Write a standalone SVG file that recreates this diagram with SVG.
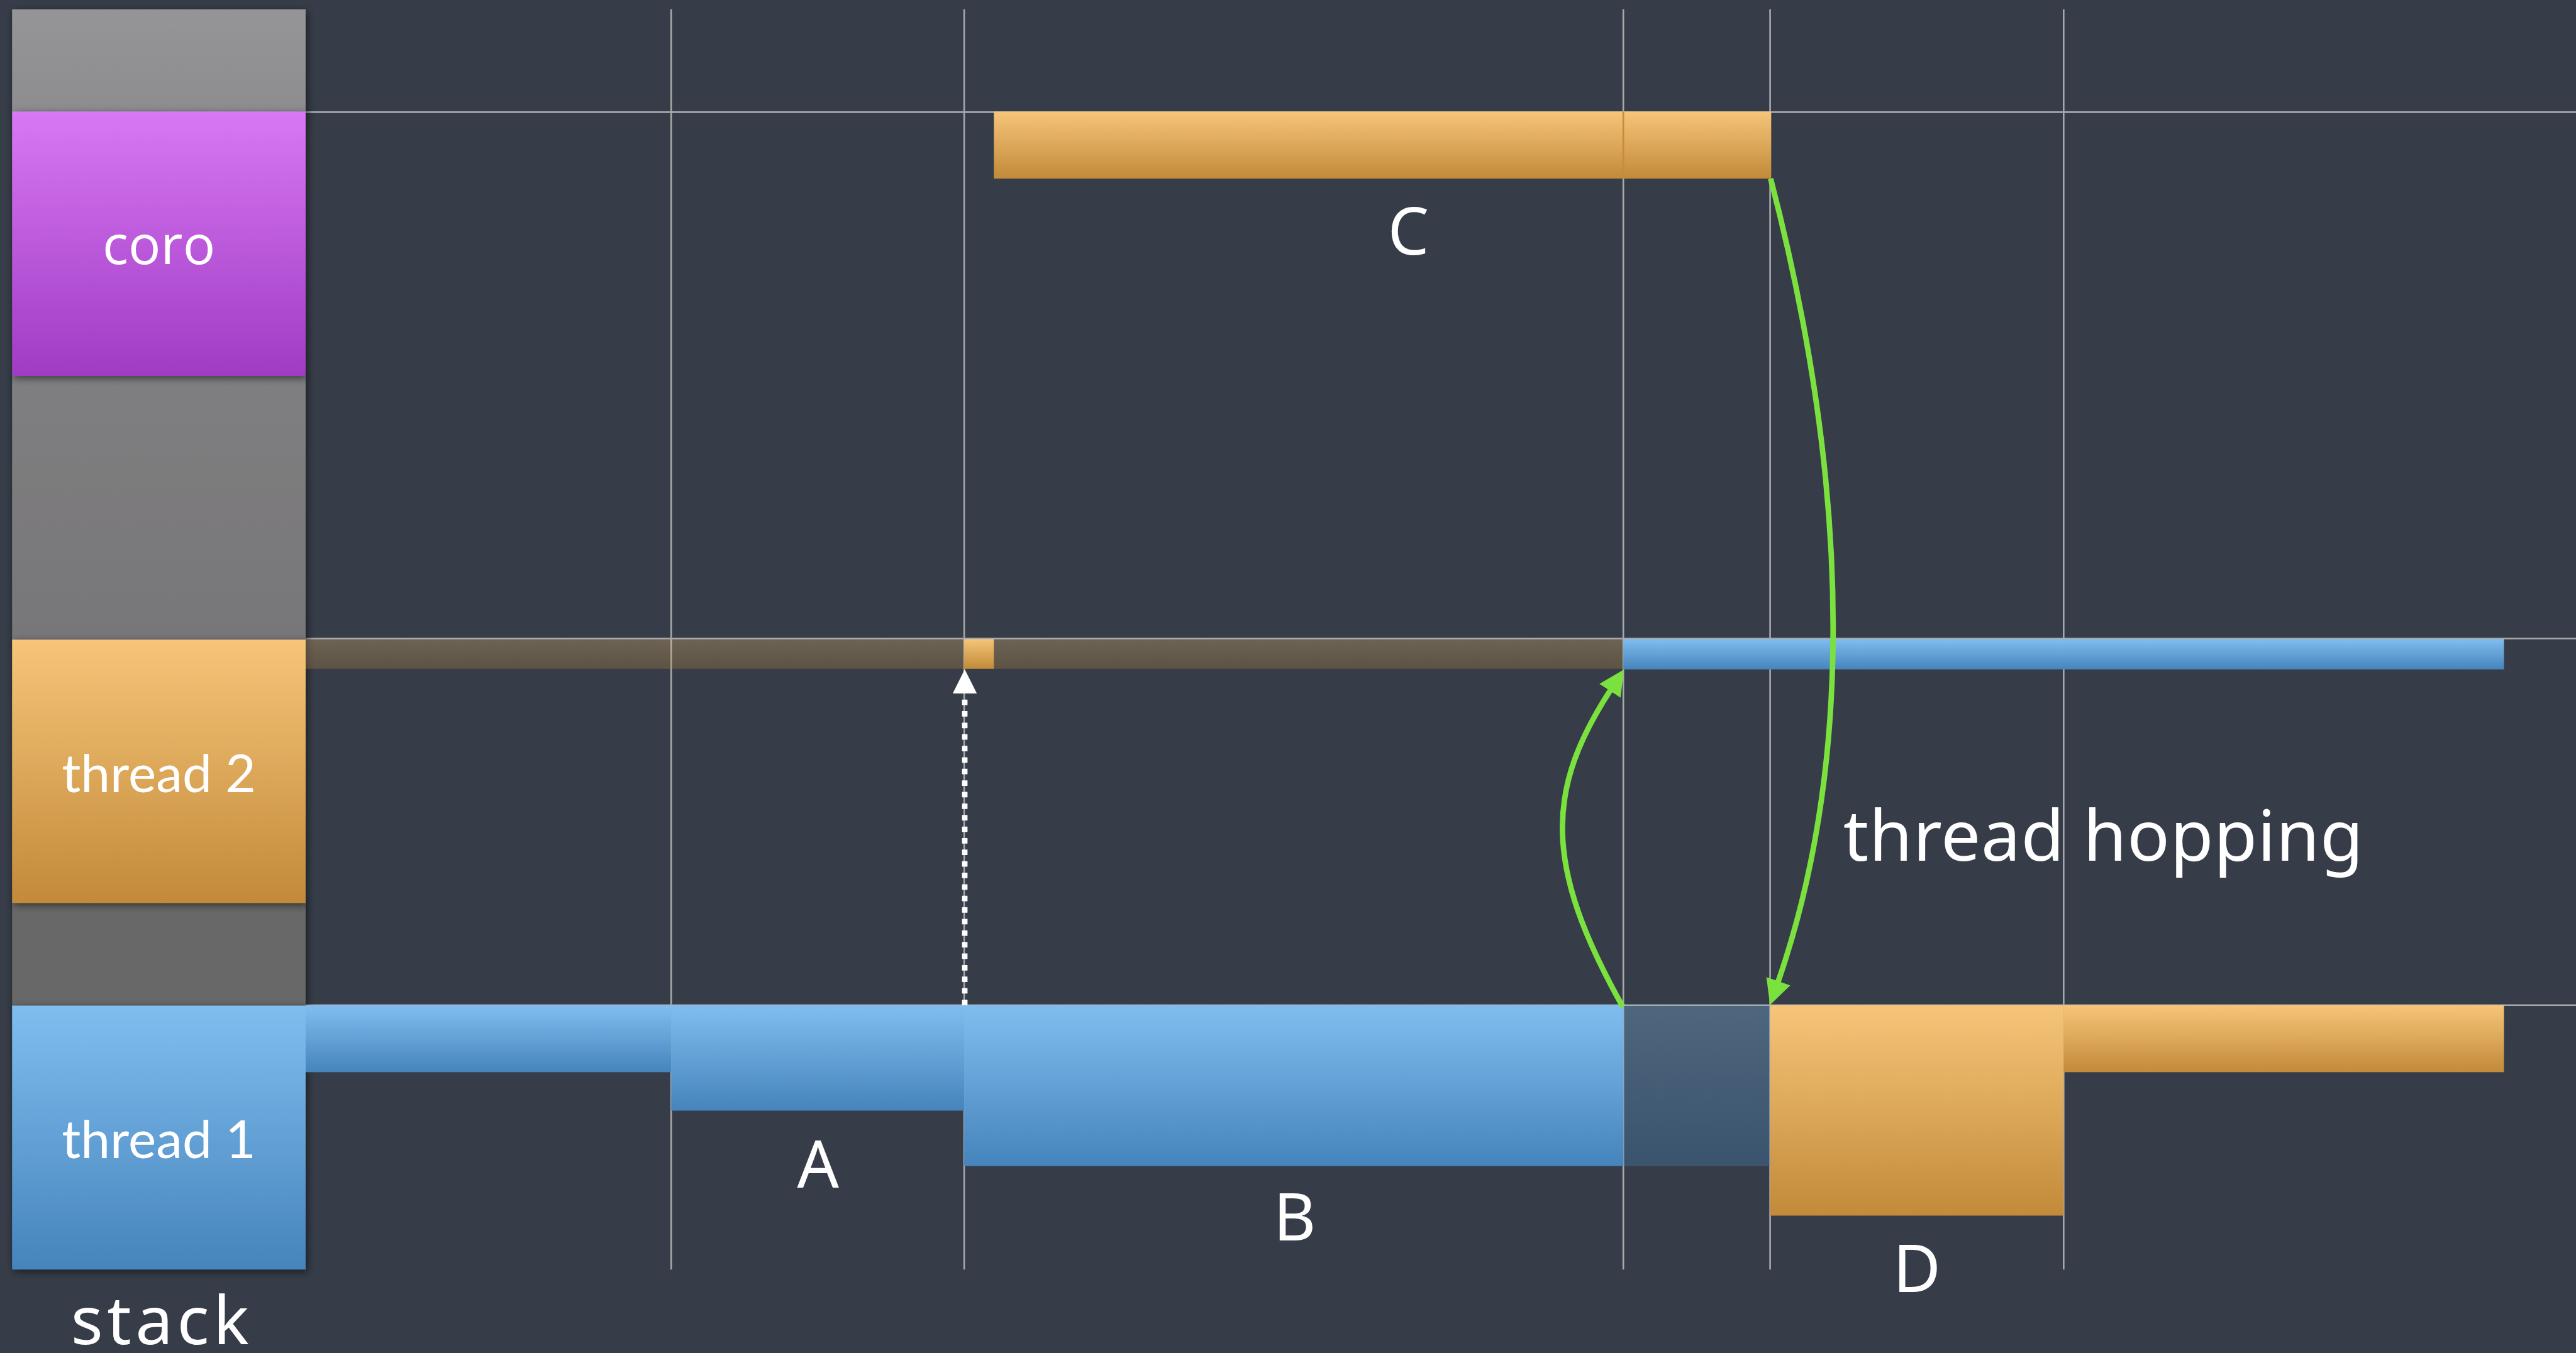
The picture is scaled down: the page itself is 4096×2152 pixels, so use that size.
<svg xmlns="http://www.w3.org/2000/svg" width="4096" height="2152" viewBox="0 0 4096 2152">
  <defs>
    <linearGradient id="gBlue" x1="0" y1="0" x2="0" y2="1">
      <stop offset="0" stop-color="#80bdef"/>
      <stop offset="1" stop-color="#4584bc"/>
    </linearGradient>
    <linearGradient id="gOrange" x1="0" y1="0" x2="0" y2="1">
      <stop offset="0" stop-color="#f6c579"/>
      <stop offset="1" stop-color="#c28a39"/>
    </linearGradient>
    <linearGradient id="gPurple" x1="0" y1="0" x2="0" y2="1">
      <stop offset="0" stop-color="#d878f4"/>
      <stop offset="1" stop-color="#a03bc3"/>
    </linearGradient>
    <linearGradient id="gGrayTop" x1="0" y1="0" x2="0" y2="1">
      <stop offset="0" stop-color="#959496"/>
      <stop offset="1" stop-color="#8d8c8e"/>
    </linearGradient>
    <linearGradient id="gGrayMid" x1="0" y1="0" x2="0" y2="1">
      <stop offset="0" stop-color="#7f7e80"/>
      <stop offset="1" stop-color="#777678"/>
    </linearGradient>
    <filter id="sh" x="-10%" y="-10%" width="120%" height="120%">
      <feDropShadow dx="3" dy="4" stdDeviation="7" flood-color="#000000" flood-opacity="0.55"/>
    </filter>
    <marker id="mGreen" markerUnits="userSpaceOnUse" markerWidth="46" markerHeight="46" refX="6" refY="23" orient="auto" viewBox="0 0 46 46">
      <path d="M0,0 L46,23 L0,46 z" fill="#7be13f"/>
    </marker>
    <marker id="mWhite" markerUnits="userSpaceOnUse" markerWidth="44" markerHeight="44" refX="6" refY="22" orient="auto" viewBox="0 0 44 44">
      <path d="M0,0 L44,22 L0,44 z" fill="#ffffff"/>
    </marker>
  </defs>
  <style>
    .grid { stroke: #a7a8aa; stroke-width: 3; fill: none; }
    .lbl { fill: #ffffff; font-family: "Noto Sans", "Open Sans", sans-serif; }
    .stk { fill: #ffffff; font-family: "Lato", "Noto Sans", sans-serif; font-size: 96px; text-anchor: middle; }
    .green { stroke: #7be13f; stroke-width: 10; fill: none; }
  </style>
  <rect x="0" y="0" width="4096" height="2152" fill="#363d48"/>
  <g transform="scale(0.87409)">
    <!-- grid -->
    <g id="grid">
      <line class="grid" x1="1221" y1="17" x2="1221" y2="2310"/>
      <line class="grid" x1="1754" y1="17" x2="1754" y2="2310"/>
      <line class="grid" x1="2953" y1="17" x2="2953" y2="2310"/>
      <line class="grid" x1="3220" y1="17" x2="3220" y2="2310"/>
      <line class="grid" x1="3754" y1="17" x2="3754" y2="2310"/>
      <line class="grid" x1="556" y1="204" x2="4686" y2="204"/>
      <line class="grid" x1="556" y1="1162" x2="4686" y2="1162"/>
      <line class="grid" x1="556" y1="1829" x2="4686" y2="1829"/>
    </g>
    <!-- stack column -->
    <g id="stack-column" filter="url(#sh)">
      <rect x="22" y="17" width="534" height="190" fill="url(#gGrayTop)"/>
      <rect x="22" y="680" width="534" height="488" fill="url(#gGrayMid)"/>
      <rect x="22" y="1640" width="534" height="194" fill="#686768"/>
    </g>
    <g id="coro" filter="url(#sh)">
      <rect x="22" y="203" width="534" height="481" fill="url(#gPurple)"/>
      <text x="289" y="480" fill="#ffffff" font-family="'Open Sans', 'Noto Sans', sans-serif" font-size="98" text-anchor="middle">coro</text>
    </g>
    <g id="thread2" filter="url(#sh)">
      <rect x="22" y="1164" width="534" height="479" fill="url(#gOrange)"/>
      <text class="stk" x="289" y="1441">thread 2</text>
    </g>
    <g id="thread1" filter="url(#sh)">
      <rect x="22" y="1830" width="534" height="480" fill="url(#gBlue)"/>
      <text class="stk" x="289" y="2107">thread 1</text>
    </g>
    <g id="stack-label">
      <text class="lbl" x="291" y="2446" font-size="122" text-anchor="middle" textLength="324" lengthAdjust="spacing">stack</text>
    </g>
    <!-- coro lane -->
    <g id="bar-C">
      <rect x="1808" y="203" width="1414" height="122" fill="url(#gOrange)"/>
      <line x1="2953" y1="203" x2="2953" y2="325" stroke="#c48c3b" stroke-width="3"/>
      <text class="lbl" x="2562" y="463" font-size="119" text-anchor="middle">C</text>
    </g>
    <!-- thread 2 lane -->
    <g id="thread2-lane">
      <rect x="556" y="1163" width="1198" height="54" fill="url(#gOrange)" opacity="0.28"/>
      <rect x="1754" y="1163" width="54" height="54" fill="url(#gOrange)"/>
      <rect x="1808" y="1163" width="1145" height="54" fill="url(#gOrange)" opacity="0.28"/>
      <rect x="2953" y="1163" width="1602" height="55" fill="url(#gBlue)"/>
    </g>
    <!-- thread 1 lane -->
    <g id="thread1-lane">
      <rect x="556" y="1829" width="665" height="122" fill="url(#gBlue)"/>
      <rect x="1221" y="1829" width="533" height="192" fill="url(#gBlue)"/>
      <rect x="1754" y="1829" width="1199" height="293" fill="url(#gBlue)"/>
      <rect x="2953" y="1829" width="267" height="293" fill="url(#gBlue)" opacity="0.32"/>
      <rect x="3220" y="1829" width="534" height="383" fill="url(#gOrange)"/>
      <rect x="3754" y="1829" width="801" height="122" fill="url(#gOrange)"/>
    </g>
    <g id="bar-labels">
      <text class="lbl" x="1488" y="2161" font-size="119" text-anchor="middle">A</text>
      <text class="lbl" x="2355" y="2257" font-size="119" text-anchor="middle">B</text>
      <text class="lbl" x="3487" y="2351" font-size="119" text-anchor="middle">D</text>
    </g>
    <!-- connectors -->
    <g id="connectors">
      <path d="M1755,1829 L1755,1256" stroke="#ffffff" stroke-width="10" stroke-dasharray="10 11" fill="none" marker-end="url(#mWhite)"/>
      <path class="green" d="M2952,1832 C2805,1570 2813,1434 2932,1252" marker-end="url(#mGreen)"/>
      <path class="green" d="M3221,325 C3377,925 3364,1416 3233,1791" marker-end="url(#mGreen)"/>
    </g>
    <g id="hop-label">
      <text class="lbl" x="3353" y="1566" font-size="128" textLength="946" lengthAdjust="spacing">thread hopping</text>
    </g>
  </g>
</svg>
